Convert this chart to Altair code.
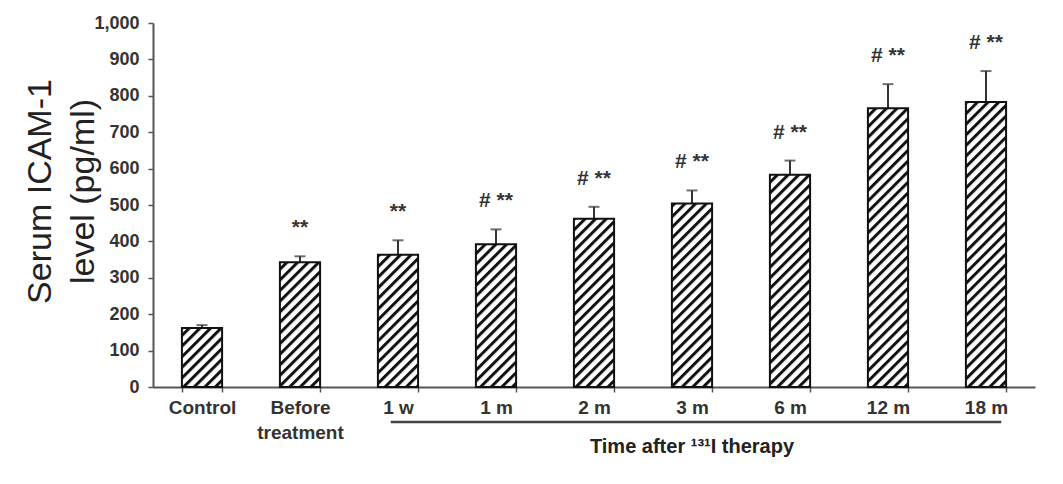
import altair as alt
import pandas as pd
import jinja2
from altair.utils.html import HTML_TEMPLATE

# ---- data ----
categories = ["Control", "Before treatment", "1 w", "1 m", "2 m", "3 m", "6 m", "12 m", "18 m"]
means = [162, 343, 363, 392, 462, 504, 583, 766, 783]
sds = [8, 16, 40, 41, 33, 36, 39, 66, 85]
signif = ["", "**", "**", "# **", "# **", "# **", "# **", "# **", "# **"]
y_ticks = list(range(0, 1001, 100))
group_start = "1 w"
group_end = "18 m"
group_label_at = "3 m"
group_label = "Time after ¹³¹I therapy"

df = pd.DataFrame({"category": categories, "mean": means, "sd": sds, "sig": signif})
df["upper"] = df["mean"] + df["sd"]

W, H = 882, 364

xscale = alt.Scale(domain=categories, paddingInner=0.59, paddingOuter=0.295)
yscale = alt.Scale(domain=[0, 1000], nice=False)

xaxis = alt.Axis(
    title=None, labelAngle=0, tickBand="extent", tickSize=5, tickWidth=1.5,
    tickColor="#555", domainColor="#555", domainWidth=2,
    labelFont="Liberation Sans", labelFontSize=19, labelFontWeight="bold",
    labelColor="#333", labelPadding=6, labelLineHeight=25,
    labelExpr="datum.label == 'Before treatment' ? ['Before', 'treatment'] : datum.label",
)
yaxis = alt.Axis(
    values=y_ticks, format=",d", tickSize=5, tickWidth=1.5, tickColor="#555",
    domainColor="#555", domainWidth=2, grid=False,
    labelFont="Liberation Sans", labelFontSize=18, labelFontWeight="bold",
    labelColor="#333", labelPadding=9,
    title=["Serum ICAM-1", "level (pg/ml)"], titleFont="Liberation Sans",
    titleFontSize=34, titleFontWeight="normal", titleColor="#222",
    titleAngle=-90, titleX=-130, titleY=168, titleAlign="center",
    titleBaseline="top", titleLineHeight=43,
)

base = alt.Chart(df)
X = alt.X("category:N", scale=xscale, axis=xaxis, sort=categories)
Ymean = alt.Y("mean:Q", scale=yscale, axis=yaxis)
Yup = alt.Y("upper:Q", scale=yscale, axis=yaxis)

err = base.mark_rule(color="#333", strokeWidth=2).encode(
    x=X, y=Ymean, y2="upper:Q"
)
cap = base.mark_tick(color="#333", size=11, thickness=2).encode(x=X, y=Yup)
bars = base.mark_bar(fill="url(#hatch)", stroke="#111", strokeWidth=2).encode(
    x=X, y=Ymean
)
ann = base.mark_text(
    dy=-28, baseline="middle", font="Liberation Sans", fontSize=21,
    fontWeight="bold", color="#333",
).encode(x=X, y=Yup, text="sig:N")

grp = pd.DataFrame({"start": [group_start], "end": [group_end],
                    "mid": [group_label_at], "label": [group_label]})
bracket = alt.Chart(grp).mark_rule(color="#444", strokeWidth=2.5).encode(
    x=alt.X("start:N", scale=xscale, axis=xaxis, sort=categories, bandPosition=0.32),
    x2=alt.X2("end:N", bandPosition=0.88),
    y=alt.value(H + 35),
)
glabel = alt.Chart(grp).mark_text(
    font="Liberation Sans", fontSize=20, fontWeight="bold", color="#222",
    baseline="alphabetic", align="center",
).encode(
    x=alt.X("mid:N", scale=xscale, axis=xaxis, sort=categories),
    y=alt.value(H + 66),
    text="label:N",
)

chart = alt.layer(err, cap, bars, ann, bracket, glabel).properties(
    width=W, height=H,
    padding={"left": 145, "top": 15, "right": 20, "bottom": 90},
    autosize=alt.AutoSizeParams(type="none"),
    background="white",
).configure_view(stroke=None)

PATTERN = (
    '<svg width="0" height="0" style="position:absolute">'
    '<defs><pattern id="hatch" patternUnits="userSpaceOnUse" width="7.5" height="7.5" '
    'patternTransform="rotate(45)">'
    '<rect width="7.5" height="7.5" fill="white"/>'
    '<rect width="3" height="7.5" fill="#111"/>'
    '</pattern></defs></svg>'
)


class HatchTemplate(jinja2.Template):
    def render(self, *args, **kwargs):
        html = HTML_TEMPLATE.render(*args, **kwargs)
        if "<body>" in html:
            return html.replace("<body>", "<body>" + PATTERN, 1)
        return PATTERN + html


chart.save("out.html", embed_options={"renderer": "svg", "actions": False},
           template=HatchTemplate(""))
